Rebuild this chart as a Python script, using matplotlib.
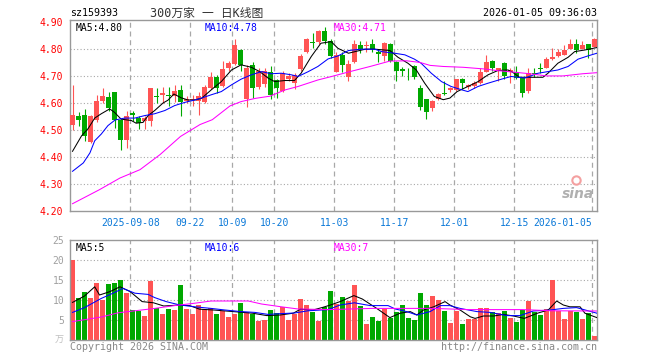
import matplotlib
matplotlib.use('Agg')
import matplotlib.pyplot as plt
import numpy as np

# daily candles, 2025-08-25 .. 2026-01-05 (88 trading days)
opens = [4.520, 4.553, 4.557, 4.455, 4.535, 4.606, 4.622, 4.639, 4.538, 4.464,
         4.562, 4.545, 4.532, 4.532, 4.625, 4.630, 4.628, 4.624, 4.648, 4.608,
         4.610, 4.609, 4.605, 4.657, 4.695, 4.664, 4.728, 4.745, 4.797, 4.614,
         4.739, 4.660, 4.670, 4.715, 4.685, 4.645, 4.690, 4.675, 4.725, 4.790,
         4.825, 4.826, 4.868, 4.830, 4.716, 4.778, 4.697, 4.750, 4.815, 4.810,
         4.820, 4.787, 4.775, 4.820, 4.753, 4.727, 4.712, 4.735, 4.655, 4.613,
         4.580, 4.614, 4.635, 4.647, 4.649, 4.690, 4.658, 4.661, 4.672, 4.716,
         4.756, 4.719, 4.747, 4.716, 4.716, 4.692, 4.643, 4.710, 4.728, 4.731,
         4.762, 4.772, 4.778, 4.800, 4.817, 4.800, 4.817, 4.806]
highs = [4.665, 4.568, 4.578, 4.555, 4.630, 4.655, 4.639, 4.640, 4.540, 4.570,
         4.570, 4.550, 4.550, 4.655, 4.655, 4.660, 4.660, 4.665, 4.667, 4.625,
         4.630, 4.640, 4.665, 4.716, 4.705, 4.756, 4.756, 4.836, 4.800, 4.740,
         4.752, 4.730, 4.730, 4.735, 4.690, 4.720, 4.710, 4.712, 4.780, 4.840,
         4.858, 4.870, 4.880, 4.835, 4.790, 4.790, 4.760, 4.833, 4.830, 4.830,
         4.836, 4.800, 4.827, 4.822, 4.755, 4.733, 4.730, 4.740, 4.667, 4.615,
         4.610, 4.636, 4.680, 4.660, 4.690, 4.692, 4.670, 4.680, 4.730, 4.778,
         4.760, 4.730, 4.750, 4.730, 4.735, 4.692, 4.728, 4.729, 4.747, 4.770,
         4.805, 4.800, 4.815, 4.837, 4.837, 4.830, 4.820, 4.840]
lows = [4.500, 4.515, 4.460, 4.450, 4.530, 4.600, 4.569, 4.507, 4.425, 4.433,
        4.532, 4.505, 4.505, 4.515, 4.600, 4.600, 4.590, 4.605, 4.550, 4.600,
        4.590, 4.556, 4.600, 4.652, 4.635, 4.658, 4.720, 4.740, 4.720, 4.585,
        4.617, 4.650, 4.660, 4.614, 4.620, 4.640, 4.680, 4.650, 4.720, 4.785,
        4.803, 4.820, 4.820, 4.765, 4.716, 4.716, 4.680, 4.747, 4.785, 4.790,
        4.790, 4.750, 4.755, 4.752, 4.680, 4.700, 4.685, 4.690, 4.575, 4.540,
        4.570, 4.610, 4.630, 4.640, 4.645, 4.650, 4.650, 4.655, 4.670, 4.715,
        4.720, 4.680, 4.690, 4.675, 4.690, 4.622, 4.638, 4.695, 4.710, 4.730,
        4.760, 4.770, 4.776, 4.800, 4.784, 4.800, 4.765, 4.806]
closes = [4.557, 4.537, 4.478, 4.550, 4.606, 4.624, 4.581, 4.535, 4.464, 4.550,
          4.557, 4.527, 4.545, 4.655, 4.622, 4.635, 4.624, 4.645, 4.605, 4.616,
          4.614, 4.626, 4.660, 4.695, 4.655, 4.726, 4.747, 4.815, 4.741, 4.731,
          4.655, 4.720, 4.720, 4.630, 4.655, 4.710, 4.700, 4.705, 4.775, 4.835,
          4.822, 4.868, 4.828, 4.772, 4.778, 4.741, 4.745, 4.818, 4.798, 4.814,
          4.800, 4.781, 4.823, 4.755, 4.720, 4.720, 4.709, 4.695, 4.585, 4.565,
          4.608, 4.633, 4.632, 4.655, 4.690, 4.674, 4.667, 4.674, 4.716, 4.753,
          4.729, 4.729, 4.698, 4.723, 4.692, 4.637, 4.710, 4.706, 4.724, 4.762,
          4.770, 4.788, 4.796, 4.817, 4.796, 4.815, 4.796, 4.837]
# volume, in 万
volumes = [20.0, 10.4, 12.1, 10.6, 14.3, 10.0, 14.0, 14.3, 15.0, 11.7,
           7.5, 7.3, 6.0, 14.8, 7.9, 6.5, 7.75, 7.5, 13.75, 7.75,
           6.5, 8.75, 7.75, 7.9, 6.5, 7.3, 5.75, 6.5, 9.25, 6.9,
           6.5, 4.8, 4.9, 7.5, 6.8, 8.3, 4.9, 6.5, 10.25, 8.75,
           6.9, 4.8, 8.3, 12.25, 9.0, 10.75, 9.8, 13.75, 8.6, 4.0,
           5.75, 4.75, 7.75, 5.6, 7.0, 8.75, 5.5, 5.0, 11.75, 8.75,
           11.0, 10.1, 7.25, 4.25, 7.25, 4.0, 5.25, 5.25, 8.0, 8.0,
           7.0, 6.75, 7.25, 5.5, 4.5, 7.5, 9.75, 7.0, 6.25, 7.75,
           15.0, 7.25, 5.25, 7.25, 7.0, 5.25, 6.75, 0.9]

# moving average lines: (candle position, value)
ma5_pts = [(0, 4.421), (1.5, 4.478), (2.6, 4.505), (3.7, 4.544), (4.8, 4.56), (6.2, 4.578),
           (7, 4.565), (8.1, 4.54), (9.8, 4.535), (10.6, 4.525), (11.75, 4.528), (12.6, 4.553),
           (13.7, 4.572), (15.1, 4.60), (15.9, 4.61), (16.9, 4.633), (18.1, 4.619), (19.25, 4.611),
           (20.4, 4.611), (21.5, 4.617), (23.1, 4.648), (24.8, 4.679), (26.5, 4.722), (28.1, 4.741),
           (29.8, 4.732), (31.2, 4.716), (32.6, 4.692), (33.7, 4.679), (35.4, 4.683), (37.0, 4.683),
           (38.1, 4.71), (39.8, 4.772), (41.4, 4.821), (43.1, 4.827), (44.25, 4.802), (46, 4.784),
           (47.1, 4.79), (48.8, 4.799), (50.4, 4.799), (52.9, 4.794), (54.25, 4.769), (55.9, 4.747),
           (57.3, 4.722), (58.7, 4.673), (60.3, 4.624), (61.8, 4.612), (62.9, 4.618), (64.1, 4.642),
           (65.9, 4.661), (67.6, 4.679), (69.25, 4.704), (70.9, 4.72), (72.6, 4.722), (73.4, 4.713),
           (74.5, 4.695), (78.4, 4.695), (79.25, 4.71), (80.9, 4.747), (82.6, 4.769), (83.7, 4.79),
           (85.4, 4.796), (87.4, 4.805)]
ma10_pts = [(0, 4.347), (1.8, 4.378), (2.9, 4.415), (3.7, 4.46), (4.8, 4.485), (5.9, 4.516),
            (7.1, 4.537), (8.7, 4.544), (10.4, 4.544), (12, 4.553), (13.7, 4.56), (15.4, 4.572),
            (17, 4.59), (18.7, 4.602), (20.4, 4.611), (21.5, 4.618), (23.1, 4.63), (24.8, 4.642),
            (26.5, 4.667), (28.1, 4.688), (29.8, 4.704), (31.5, 4.716), (33.1, 4.708), (34.8, 4.71),
            (36.5, 4.704), (37.6, 4.698), (39.3, 4.716), (40.9, 4.735), (42.6, 4.763), (44.25, 4.774),
            (46, 4.794), (48.1, 4.799), (50.4, 4.799), (51.5, 4.79), (53.7, 4.784), (55.4, 4.778),
            (57.0, 4.762), (58.1, 4.747), (59.8, 4.71), (61.5, 4.679), (63.1, 4.661), (64.8, 4.649),
            (65.9, 4.642), (67.6, 4.661), (69.25, 4.673), (71.5, 4.688), (73.1, 4.698), (75.4, 4.692),
            (77.6, 4.71), (79.25, 4.716), (80.9, 4.722), (82.6, 4.735), (84.25, 4.762), (85.9, 4.774),
            (87.4, 4.784)]
ma30_pts = [(0, 4.227), (4.5, 4.279), (7.9, 4.322), (11.25, 4.353), (14.6, 4.409), (18, 4.476),
            (21.25, 4.52), (23.3, 4.538), (26.25, 4.589), (28.1, 4.605), (30.5, 4.617), (32.9, 4.625),
            (35.4, 4.648), (37.6, 4.661), (40.9, 4.685), (43.2, 4.698), (46.25, 4.716), (49.6, 4.735),
            (52.9, 4.755), (55.7, 4.756), (57.9, 4.75), (59.6, 4.739), (61.8, 4.735), (65.1, 4.732),
            (68.5, 4.726), (70.7, 4.72), (74, 4.713), (76.25, 4.708), (79, 4.70), (81.75, 4.70),
            (85, 4.708), (87.4, 4.712)]
vma5_pts = [(0, 9.4), (2, 11.0), (3.7, 13.3), (4.5, 11.25), (6.25, 12.1), (7.9, 13.3), (9.6, 12.1),
            (11.6, 9.6), (13.5, 9.3), (15.2, 8.5), (17.4, 8.7), (19.5, 8.6), (21.2, 7.7), (23.5, 7.5),
            (26.8, 7.1), (30, 6.7), (32.4, 6.1), (34.6, 6.25), (36.8, 6.7), (38, 7.7), (40.1, 7.5),
            (41.8, 8.2), (43, 8.75), (44.6, 9.6), (46.9, 11.1), (48.3, 10.25), (50.7, 7.9), (52.9, 5.6),
            (54.6, 6.7), (56.3, 7.1), (57.4, 6.25), (58.5, 7.5), (60.2, 8.3), (62.1, 9.6), (62.9, 8.75),
            (64.6, 7.5), (66.3, 5.8), (67.1, 5.4), (68.5, 6.0), (70.2, 6.0), (71.8, 6.4), (73.5, 6.0),
            (75.3, 5.4), (77.5, 6.7), (79.3, 7.5), (80.7, 9.75), (81.8, 8.75), (82.9, 8.3), (84.6, 8.3),
            (85.4, 6.7), (87.4, 5.6)]
vma10_pts = [(0, 6.9), (2, 8.1), (4.8, 10.4), (6.75, 11.7), (8.4, 12.9), (10.4, 11.7), (12.6, 11.4),
             (13.7, 10.6), (15.6, 9.6), (17.9, 8.75), (20.4, 8.3), (23.1, 7.9), (25.4, 7.5), (28.1, 7.1),
             (30.4, 6.9), (32.6, 6.4), (34.8, 6.6), (37, 6.75), (39.25, 7.3), (42.6, 7.6), (44.6, 8.75),
             (47, 9.3), (49.6, 8.6), (52.6, 8.6), (53.8, 7.75), (55.7, 7.1), (57.4, 6.25), (59.6, 7.1),
             (61.3, 8.6), (62.9, 8.6), (64.6, 7.9), (67.4, 7.1), (69.6, 6.9), (72.4, 6.1), (74.6, 6.1),
             (76.8, 7.25), (79.6, 7.5), (81.8, 7.9), (84, 8.1), (87.4, 6.7)]
vma30_pts = [(0, 4.6), (4.8, 5.75), (7.6, 6.8), (10.4, 7.3), (13.7, 7.9), (17, 8.6), (20.4, 9.2),
             (23.1, 9.75), (29.3, 9.75), (31.5, 9.0), (34.8, 8.3), (37.6, 7.75), (42.6, 7.6), (50, 7.9),
             (60, 7.9), (66, 7.6), (75, 7.6), (80, 7.3), (87.4, 7.25)]

date_idx = [10, 20, 27, 34, 44, 54, 64, 74, 87]
date_labels = ['2025-09-08', '09-22', '10-09', '10-20', '11-03', '11-17', '12-01', '12-15', '2026-01-05']
price_ticks = [4.20, 4.30, 4.40, 4.50, 4.60, 4.70, 4.80, 4.90]
vol_ticks = [5, 10, 15, 20, 25]

RED = '#ff5454'
GREEN = '#00a800'
GRID = '#a8a8a8'
MONO = 'DejaVu Sans Mono'
plt.rcParams['font.family'] = [MONO, 'Noto Sans CJK SC']

W, H = 660, 360
fig = plt.figure(figsize=(W / 100, H / 100), dpi=100)

def px_axes(l, t, r, b):
    return fig.add_axes([l / W, 1 - b / H, (r - l) / W, (b - t) / H])

ax = px_axes(70, 20, 597, 211)
axv = px_axes(70, 240, 597, 340)

n = len(opens)
x = np.arange(n)
o = np.array(opens); c = np.array(closes)
up = c >= o
cols = np.where(up, RED, GREEN)
xl = (-0.42, 87.42)
vline_x = np.array(date_idx) - 0.38

# price panel
for t in price_ticks[1:-1]:
    ax.axhline(t, color=GRID, lw=0.8, ls=(0, (1, 2)), zorder=0)
for v in vline_x:
    ax.axvline(v, color=GRID, lw=0.9, ls=(0, (4, 3)), zorder=0)
ax.vlines(x, lows, highs, colors=cols, lw=0.8, zorder=2)
body = np.maximum(np.abs(c - o), 0.0015)
ax.bar(x, body, bottom=np.minimum(o, c), width=0.82, color=cols, lw=0, zorder=3)
for pts, col in [(ma5_pts, 'black'), (ma10_pts, '#0000ff'), (ma30_pts, '#ff00ff')]:
    px, py = zip(*pts)
    ax.plot(px, py, color=col, lw=0.75, zorder=4)
ax.set_xlim(*xl)
ax.set_ylim(4.2, 4.907)
ax.set_yticks(price_ticks)
ax.set_yticklabels(['%.2f' % t for t in price_ticks])
ax.tick_params(axis='y', length=0, pad=5, labelcolor='#ff0000', labelsize=7)
ax.set_xticks(vline_x)
ax.set_xticklabels(date_labels)
ax.tick_params(axis='x', length=0, pad=5, labelcolor='#0a78d8', labelsize=7)
ax.get_xticklabels()[-1].set_ha('right')
ax.text(0.01, 0.985, 'MA5:4.80', transform=ax.transAxes, color='black', fontsize=7, va='top')
ax.text(0.255, 0.985, 'MA10:4.78', transform=ax.transAxes, color='#0000ff', fontsize=7, va='top')
ax.text(0.50, 0.985, 'MA30:4.71', transform=ax.transAxes, color='#ff00ff', fontsize=7, va='top')
ax.text(0.995, 0.09, 'sina', transform=ax.transAxes, color='#b0b0b0', fontsize=10,
        style='italic', weight='bold', ha='right', va='center', family='DejaVu Sans')
ax.plot([83.9], [4.315], 'o', ms=6, mfc='none', mec='#f4a0a0', mew=1.5)

# volume panel
for t in vol_ticks[:-1]:
    axv.axhline(t, color=GRID, lw=0.8, ls=(0, (1, 2)), zorder=0)
for v in vline_x:
    axv.axvline(v, color=GRID, lw=0.9, ls=(0, (4, 3)), zorder=0)
axv.bar(x, volumes, width=0.82, color=cols, lw=0, zorder=2)
for pts, col in [(vma5_pts, 'black'), (vma10_pts, '#0000ff'), (vma30_pts, '#ff00ff')]:
    px, py = zip(*pts)
    axv.plot(px, py, color=col, lw=0.75, zorder=4)
axv.set_xlim(*xl)
axv.set_ylim(0, 25)
axv.set_xticks([])
axv.set_yticks(vol_ticks)
axv.tick_params(axis='y', length=0, pad=4, labelcolor='#a0a0a0', labelsize=7)
axv.text(0.01, 0.97, 'MA5:5', transform=axv.transAxes, color='black', fontsize=7, va='top')
axv.text(0.255, 0.97, 'MA10:6', transform=axv.transAxes, color='#0000ff', fontsize=7, va='top')
axv.text(0.50, 0.97, 'MA30:7', transform=axv.transAxes, color='#ff00ff', fontsize=7, va='top')

for a in (ax, axv):
    for s in a.spines.values():
        s.set_color('#999999')
        s.set_linewidth(1)

# header / footer text
fig.text(70 / W, 1 - 13 / H, 'sz159393', fontsize=7.2, va='center', ha='left')
fig.text(150 / W, 1 - 13 / H, '300万家 一 日K线图', fontsize=8.5, va='center', ha='left', color='#333333')
fig.text(597 / W, 1 - 13 / H, '2026-01-05 09:36:03', fontsize=7.2, va='center', ha='right')
fig.text(70 / W, 1 - 347 / H, 'Copyright 2026 SINA.COM', fontsize=7.2, va='center', ha='left', color='#888888')
fig.text(597 / W, 1 - 347 / H, 'http://finance.sina.com.cn', fontsize=7.2, va='center', ha='right', color='#888888')
fig.text(64 / W, 1 - 340 / H, '万', fontsize=6.5, va='center', ha='right', color='#c0c0c0')

fig.savefig('out.png', dpi=100)
